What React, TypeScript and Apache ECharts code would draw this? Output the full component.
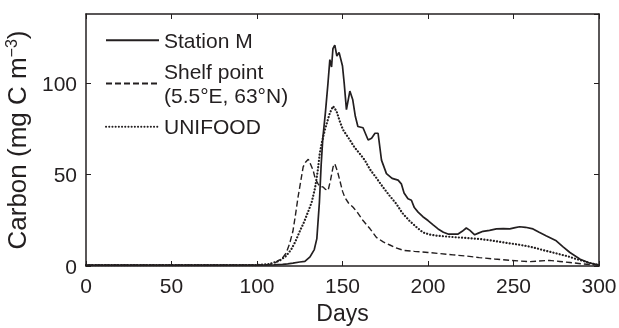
import React, { useEffect, useRef } from "react";
import * as echarts from "echarts";

const stationDays = [0, 100, 110, 115, 118, 121, 125, 128, 131, 133.5, 135, 136.5, 137.5, 138.5, 140, 141.5, 142.6, 143.6, 144.4, 145.5, 146.7, 148, 150, 151, 152.3, 154.3, 156, 157.5, 159, 162, 165, 167, 169, 170.8, 172.8, 175.7, 179, 182.5, 184.4, 186, 188.3, 190.3, 192, 194.2, 197, 200, 203, 205.9, 209, 211.7, 217.6, 220, 222.4, 224.5, 227.3, 229.5, 232.2, 236, 240, 244, 247.8, 251, 253.6, 257, 261.4, 265, 269, 275, 279, 283, 289, 294, 300];
const stationVals = [0.5, 0.5, 0.6, 0.9, 1.2, 1.6, 2.2, 2.5, 5, 9, 15, 35, 55, 70, 84, 100, 113, 109, 119, 121, 115, 117, 109.5, 100, 85.6, 95.8, 91, 82, 76.4, 75.7, 69, 70, 72.7, 72.7, 58, 50.6, 48, 47, 45, 40, 36.8, 36, 32, 29.5, 27, 24.9, 22.5, 20.3, 18.5, 17.5, 17.5, 19, 20.8, 19.5, 17.1, 18, 19, 19.5, 20.3, 20.5, 20.3, 21, 21.5, 21.2, 20.3, 18.5, 16.6, 13.8, 10.5, 7.4, 3.7, 1.8, 0.5];

const shelfDays = [0, 100, 107.5, 111, 115, 117, 119, 121, 122.5, 124, 125.5, 127, 128.5, 130, 131, 132.8, 134, 135.7, 137, 138.6, 140, 141.6, 143, 144.5, 145.5, 147, 148.4, 150, 151.3, 153.5, 156.2, 159, 162, 166, 169.8, 173.8, 177.7, 181, 185.5, 192, 200, 207, 214.6, 222, 230, 239, 247.8, 254, 259.5, 265, 271, 277, 283, 290, 298, 300];
const shelfVals = [0.5, 0.5, 0.9, 2, 4.6, 7, 12, 19, 28, 37.7, 46, 54.3, 57, 58.5, 56.5, 52.5, 48, 45, 43.5, 43.3, 42, 41.4, 47, 54.3, 56, 52, 47, 41, 37.7, 34.5, 32.2, 29, 24.9, 20.5, 15.7, 13.2, 11.5, 10, 8.6, 8, 7.4, 6.8, 6.1, 5.5, 4.6, 3.8, 3.1, 2.7, 2.4, 2.7, 3.1, 2.5, 1.9, 1.2, 0.6, 0.5];

const unifoodDays = [0, 100, 107, 113, 117, 120, 122.5, 125, 127.5, 130, 132, 134, 135.5, 136.7, 138, 139.7, 142.6, 144.5, 146.5, 148.5, 150.3, 154.3, 157, 160, 163, 166, 170, 173.8, 177.5, 181.5, 185, 189, 193, 197, 201, 205, 210, 216.6, 223, 230, 237, 244, 251, 257.5, 263, 269, 275, 281, 286, 290.6, 295, 300];
const unifoodVals = [0.5, 0.5, 1, 2.8, 5.5, 9, 13.5, 19, 24, 30, 35, 43, 52, 61.6, 68, 74.6, 83.8, 87.5, 84.8, 79, 74.6, 69, 65, 61.6, 58, 53, 48, 43, 38.5, 34, 29, 24.9, 21.5, 18.4, 17.2, 16.6, 16.2, 15.7, 15.3, 14.8, 14, 12.9, 12, 11, 9.8, 8.3, 6.9, 5.5, 4, 2.8, 1.5, 0.5];

const seriesNames = ["Station M", "Shelf point\n(5.5°E, 63°N)", "UNIFOOD"];
const xTicks = { min: 0, max: 300, interval: 50 };
const yTicks = { min: 0, max: 138, interval: 50 };

const INK = "#231f20";
const FONT = "'Liberation Sans', Arial, Helvetica, sans-serif";

function pairs(xs: number[], ys: number[]) {
  return xs.map((x, i) => [x, ys[i]]);
}

export default function App() {
  const ref = useRef<HTMLDivElement>(null);
  useEffect(() => {
    if (!ref.current) return;
    const chart = echarts.init(ref.current, undefined, { renderer: "svg" });
    const axisCommon = {
      axisLine: { show: true, onZero: false, lineStyle: { color: INK, width: 1.5 } },
      axisTick: { show: true, inside: true, length: 5, lineStyle: { color: INK, width: 1 } },
      splitLine: { show: false },
    };
    chart.setOption({
      animation: false,
      textStyle: { fontFamily: FONT, color: INK },
      grid: { left: 86, right: 20, top: 14, bottom: 62, containLabel: false, outerBoundsMode: "none" },
      legend: {
        orient: "vertical",
        left: 105,
        top: 28,
        padding: 0,
        itemWidth: 53,
        itemHeight: 14,
        itemGap: 6.5,
        data: seriesNames,
        itemStyle: { opacity: 0 },
        textStyle: { fontSize: 21, lineHeight: 24.5, color: INK, fontFamily: FONT },
      },
      xAxis: [
        {
          type: "value",
          ...xTicks,
          position: "bottom",
          ...axisCommon,
          axisLabel: { fontSize: 21, color: INK, margin: 9, fontFamily: FONT },
          name: "Days",
          nameLocation: "middle",
          nameGap: 35,
          nameTextStyle: { fontSize: 23, color: INK, fontFamily: FONT },
        },
        {
          type: "value",
          ...xTicks,
          position: "top",
          ...axisCommon,
          axisLabel: { show: false },
        },
      ],
      yAxis: [
        {
          type: "value",
          ...yTicks,
          position: "left",
          ...axisCommon,
          axisLabel: { fontSize: 21, color: INK, margin: 9, showMaxLabel: false, fontFamily: FONT },
          name: "Carbon (mg C m{sup|−3})",
          nameLocation: "middle",
          nameGap: 45,
          nameTextStyle: {
            fontSize: 26,
            color: INK,
            fontFamily: FONT,
            lineHeight: 28,
            rich: {
              sup: { fontSize: 16, verticalAlign: "top", lineHeight: 28, color: INK, fontFamily: FONT },
            },
          },
        },
        {
          type: "value",
          ...yTicks,
          position: "right",
          ...axisCommon,
          axisLabel: { show: false },
        },
      ],
      series: [
        {
          name: seriesNames[0],
          type: "line",
          data: pairs(stationDays, stationVals),
          showSymbol: false,
          symbol: "none",
          lineStyle: { color: INK, width: 1.7, type: "solid" },
          itemStyle: { color: INK },
          z: 3,
        },
        {
          name: seriesNames[1],
          type: "line",
          data: pairs(shelfDays, shelfVals),
          showSymbol: false,
          symbol: "none",
          lineStyle: { color: INK, width: 1.4, type: [6, 3] },
          itemStyle: { color: INK },
        },
        {
          name: seriesNames[2],
          type: "line",
          data: pairs(unifoodDays, unifoodVals),
          showSymbol: false,
          symbol: "none",
          lineStyle: { color: INK, width: 2.2, type: [0.1, 3.1], cap: "round" },
          itemStyle: { color: INK },
        },
      ],
    });
    return () => chart.dispose();
  }, []);
  return <div ref={ref} style={{ position: "fixed", left: 0, top: 0, width: 619, height: 328 }} />;
}
